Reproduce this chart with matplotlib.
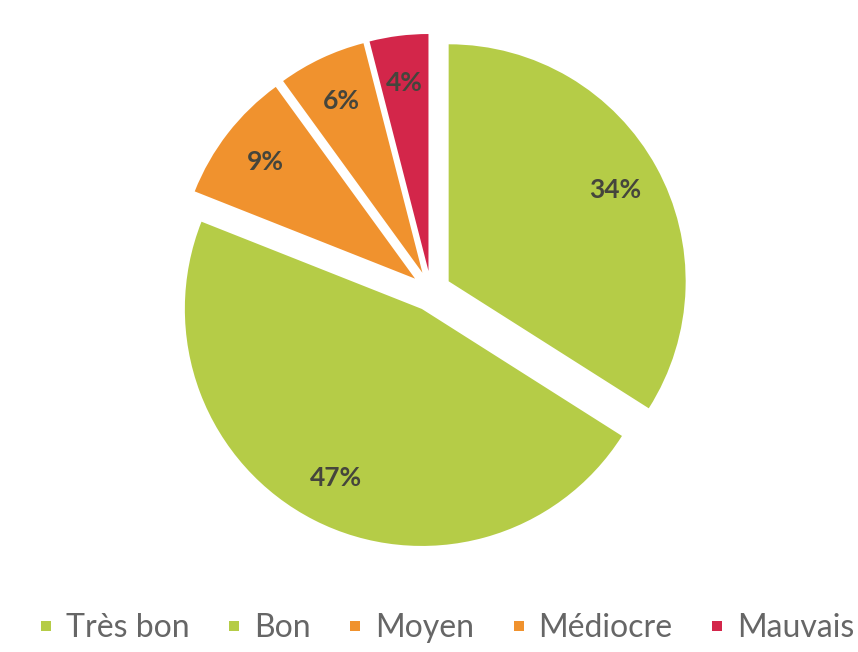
import matplotlib.pyplot as plt
from matplotlib.lines import Line2D

# Data
categories = ["Très bon", "Bon", "Moyen", "Médiocre", "Mauvais"]
shares = [34, 47, 9, 6, 4]
colors = ["#b5cc47", "#b5cc47", "#f0922e", "#f0922e", "#d3264a"]

# Geometry in pixels (figure is 858 x 652)
W, H = 858, 652
cx, cy = 431, 652 - 291
R = 237.0

fig = plt.figure(figsize=(W / 100, H / 100), dpi=100)
fig.patch.set_facecolor("white")
ax = fig.add_axes([0, 0, 1, 1])

wedges, texts, autotexts = ax.pie(
    shares,
    colors=colors,
    startangle=90,
    counterclock=False,
    explode=[0.085] * len(shares),
    autopct="%d%%",
    pctdistance=0.8,
    wedgeprops=dict(linewidth=0),
    textprops=dict(fontsize=19, fontfamily="Lato", fontweight="bold", color="#45453c"),
)

ax.set_xlim(-cx / R, (W - cx) / R)
ax.set_ylim(-cy / R, (H - cy) / R)
ax.set_aspect("equal", adjustable="box")
ax.axis("off")

# Legend with small square markers along the bottom; last label runs close to the right edge
handles = [Line2D([], [], marker="s", linestyle="none", markersize=6.5,
                  markerfacecolor=c, markeredgewidth=0) for c in colors]
fig.legend(handles, categories, loc="center left", bbox_to_anchor=(0.045, 0.037),
           ncol=len(categories), frameon=False, borderpad=0, borderaxespad=0,
           handlelength=0.45, handletextpad=0.4, columnspacing=1.17,
           prop=dict(family="Lato", size=23), labelcolor="#666666")

fig.savefig("out.png", dpi=100, facecolor="white")
